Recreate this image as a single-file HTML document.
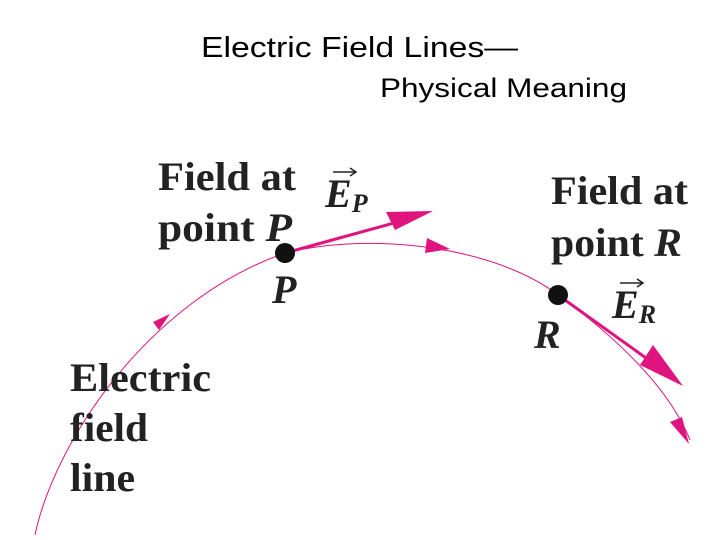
<!DOCTYPE html>
<html><head><style>
html,body{margin:0;padding:0;background:#fff;}
svg{display:block;}
</style></head><body>
<svg width="720" height="540" viewBox="0 0 720 540" xmlns="http://www.w3.org/2000/svg">
<text x="201" y="57" font-family="Liberation Sans, sans-serif" font-size="29" fill="#000" textLength="317" lengthAdjust="spacingAndGlyphs">Electric Field Lines—</text>
<text x="380" y="97" font-family="Liberation Sans, sans-serif" font-size="27" fill="#000" textLength="247" lengthAdjust="spacingAndGlyphs">Physical Meaning</text>

<path d="M35,535 C55,440 150,300 285,253 C380,230 500,250 558,295 C620,340 670,390 690,440" fill="none" stroke="#e0147f" stroke-width="1"/>
<polygon points="170,314 159,330 153,322" fill="#e0147f"/>
<polygon points="450,249 427,238 425,253" fill="#e0147f"/>
<polygon points="689,444 670,422 682,417" fill="#e0147f"/>

<line x1="285" y1="253" x2="405" y2="220" stroke="#e0147f" stroke-width="3"/>
<polygon points="433,211 386,212 395,230" fill="#e0147f"/>
<line x1="558" y1="295" x2="660" y2="368" stroke="#e0147f" stroke-width="3"/>
<polygon points="683,386 653,345 640,365" fill="#e0147f"/>

<circle cx="285" cy="253" r="10" fill="#111"/>
<circle cx="558" cy="295" r="10" fill="#111"/>

<g font-family="Liberation Serif, serif" font-weight="bold" font-size="40" fill="#222">
<text x="158" y="190" textLength="138" lengthAdjust="spacingAndGlyphs">Field at</text>
<text x="158" y="241" textLength="134" lengthAdjust="spacingAndGlyphs">point <tspan font-style="italic">P</tspan></text>
<text x="551" y="204" textLength="137" lengthAdjust="spacingAndGlyphs">Field at</text>
<text x="551" y="256" textLength="131" lengthAdjust="spacingAndGlyphs">point <tspan font-style="italic">R</tspan></text>
<text x="272" y="303" font-style="italic">P</text>
<text x="534" y="348" font-style="italic">R</text>
<text x="70" y="391" textLength="141" lengthAdjust="spacingAndGlyphs">Electric</text>
<text x="70" y="441" textLength="78" lengthAdjust="spacingAndGlyphs">field</text>
<text x="70" y="491" textLength="65" lengthAdjust="spacingAndGlyphs">line</text>
<text x="325" y="207" font-style="italic">E<tspan font-size="26" dy="5">P</tspan></text>
<text x="612" y="318" font-style="italic">E<tspan font-size="26" dy="5">R</tspan></text>
</g>
<g stroke="#222" stroke-width="1.5" fill="none">
<path d="M333,172 H355 M350,168 L356,172 L350,176"/>
<path d="M620,283 H642 M637,279 L643,283 L637,287"/>
</g>
</svg>
</body></html>
